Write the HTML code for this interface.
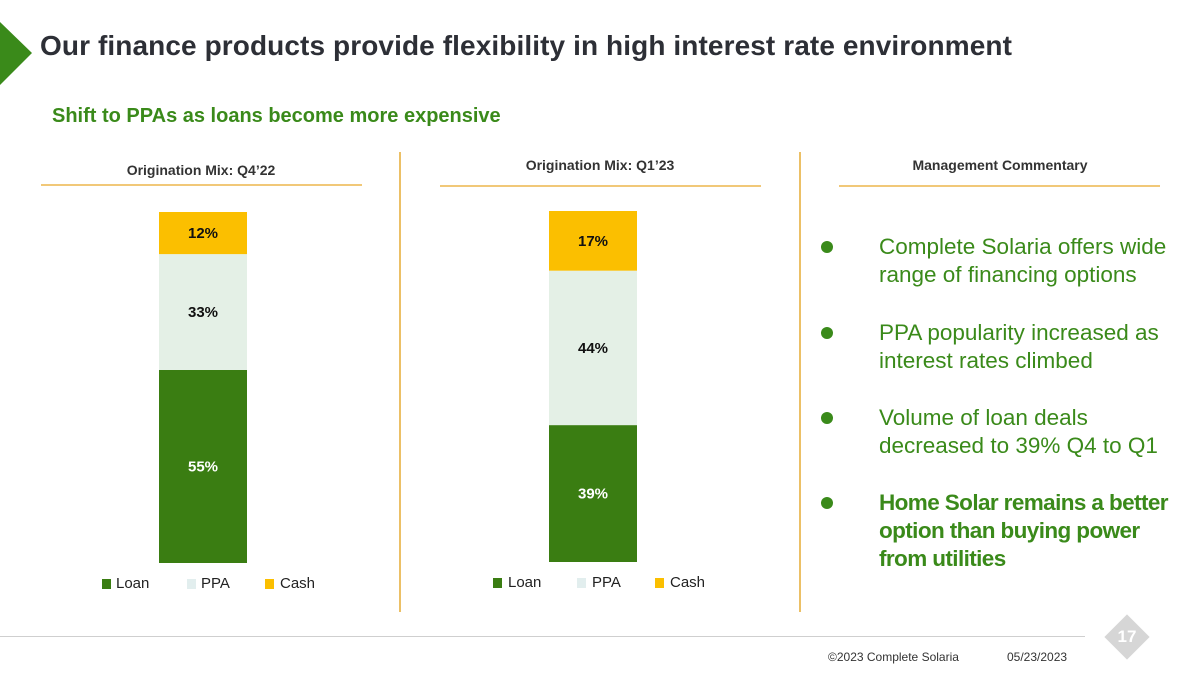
<!DOCTYPE html>
<html><head><meta charset="utf-8"><style>
body{margin:0;width:1200px;height:675px;background:#fff;position:relative;overflow:hidden;font-family:"Liberation Sans",sans-serif}
.a{position:absolute;white-space:nowrap}
.hdr{font-size:14px;font-weight:bold;color:#333;transform:translateX(-50%)}
.ul{position:absolute;height:2px;background:#f1c878}
.vl{position:absolute;width:2px;background:#ecc066}
.cm{position:absolute;left:820px;font-size:22.5px;color:#3a8a1a;line-height:28px}
.cm b.d{position:absolute;left:1px;top:8px;width:12px;height:12px;border-radius:50%;background:#3a8a1a}
.cm span{position:absolute;left:59px;white-space:nowrap}
.lg{font-size:15px;color:#222}
.sq{position:absolute;width:9px;height:10px}
</style></head><body>
<svg class="a" style="left:0;top:0" width="40" height="90"><polygon points="0,22 32,53 0,85" fill="#3a8a1a"/></svg>
<div class="a" style="left:40px;top:30px;font-size:28px;font-weight:bold;color:#2d2f36;letter-spacing:0.1px">Our finance products provide flexibility in high interest rate environment</div>
<div class="a" style="left:52px;top:105px;font-size:20px;font-weight:bold;color:#3a8a1a">Shift to PPAs as loans become more expensive</div>

<div class="a hdr" style="left:201px;top:162px">Origination Mix: Q4’22</div>
<div class="a hdr" style="left:600px;top:157px">Origination Mix: Q1’23</div>
<div class="a hdr" style="left:1000px;top:157px">Management Commentary</div>
<div class="ul" style="left:41px;top:184px;width:321px"></div>
<div class="ul" style="left:440px;top:185px;width:321px"></div>
<div class="ul" style="left:839px;top:185px;width:321px"></div>
<div class="vl" style="left:399px;top:152px;height:460px"></div>
<div class="vl" style="left:799px;top:152px;height:460px"></div>

<svg class="a" style="left:0;top:0" width="800" height="620" id="chart"></svg>

<div class="sq" style="left:102px;top:579px;background:#3a7d12"></div><div class="a lg" style="left:116px;top:575px">Loan</div>
<div class="sq" style="left:187px;top:579px;background:#e2eeee"></div><div class="a lg" style="left:201px;top:575px">PPA</div>
<div class="sq" style="left:265px;top:579px;background:#fbbf00"></div><div class="a lg" style="left:280px;top:575px">Cash</div>
<div class="sq" style="left:493px;top:578px;background:#3a7d12"></div><div class="a lg" style="left:508px;top:574px">Loan</div>
<div class="sq" style="left:577px;top:578px;background:#e2eeee"></div><div class="a lg" style="left:592px;top:574px">PPA</div>
<div class="sq" style="left:655px;top:578px;background:#fbbf00"></div><div class="a lg" style="left:670px;top:574px">Cash</div>

<div class="cm" style="top:233px"><b class="d"></b><span>Complete Solaria offers wide<br>range of financing options</span></div>
<div class="cm" style="top:319px"><b class="d"></b><span>PPA popularity increased as<br>interest rates climbed</span></div>
<div class="cm" style="top:404px"><b class="d"></b><span>Volume of loan deals<br>decreased to 39% Q4 to Q1</span></div>
<div class="cm" style="top:489px;font-weight:bold"><b class="d"></b><span style="letter-spacing:-0.6px">Home Solar remains a better<br>option than buying power<br>from utilities</span></div>

<div class="a" style="left:0;top:636px;width:1085px;height:1px;background:#cfcfcf"></div>
<div class="a" style="left:1111px;top:621px;width:32px;height:32px;background:#d6d6d6;transform:rotate(45deg)"></div>
<div class="a" style="left:1112px;top:627px;width:30px;text-align:center;color:#fff;font-size:17px;font-weight:bold">17</div>
<div class="a" style="left:828px;top:650px;font-size:12px;color:#333">©2023 Complete Solaria</div>
<div class="a" style="left:1007px;top:650px;font-size:12px;color:#333">05/23/2023</div>

<script>
const periods=["Q4'22","Q1'23"];
const loan=[55,39];
const ppa=[33,44];
const cash=[12,17];
const svg=document.getElementById('chart');
const NS='http://www.w3.org/2000/svg';
const barX=[159,549],barW=88,bottom=[563,562],plotH=351;
const y=(v)=>v/100*plotH;
const series=[{n:'loan',d:loan,c:'#3a7d12',t:'#fff'},{n:'ppa',d:ppa,c:'#e4f0e6',t:'#111'},{n:'cash',d:cash,c:'#fbbf00',t:'#111'}];
periods.forEach((p,i)=>{
  let base=bottom[i];
  series.forEach(s=>{
    const h=y(s.d[i]);
    const r=document.createElementNS(NS,'rect');
    r.setAttribute('x',barX[i]);r.setAttribute('y',base-h);r.setAttribute('width',barW);r.setAttribute('height',h);r.setAttribute('fill',s.c);
    
    
    svg.appendChild(r);
    const t=document.createElementNS(NS,'text');
    t.setAttribute('x',barX[i]+barW/2);t.setAttribute('y',base-h/2+5);t.setAttribute('text-anchor','middle');
    t.setAttribute('font-size','15');t.setAttribute('font-weight','bold');t.setAttribute('fill',s.t);t.setAttribute('font-family','Liberation Sans, sans-serif');
    t.textContent=s.d[i]+'%';
    
    
    svg.appendChild(t);
    base-=h;
  });
});
</script>
</body></html>
